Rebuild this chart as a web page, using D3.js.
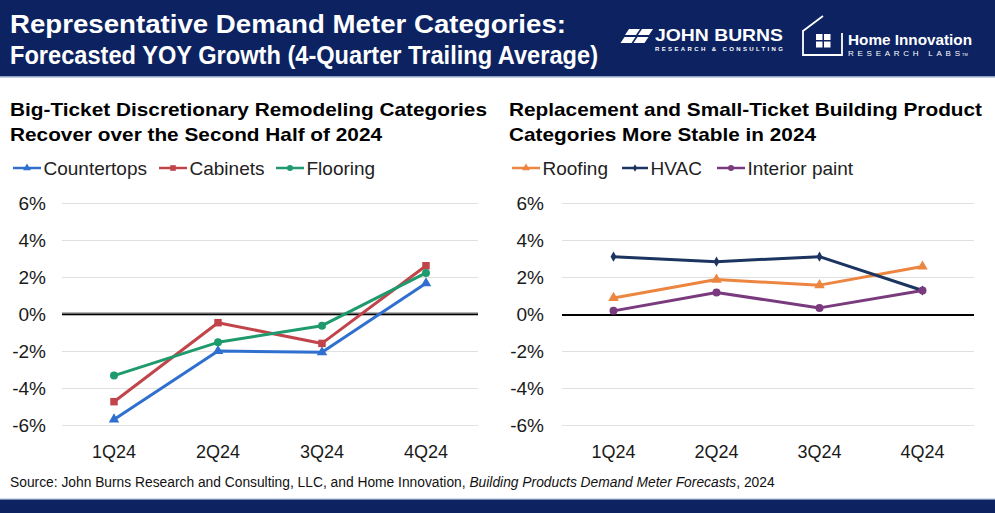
<!DOCTYPE html>
<html>
<head>
<meta charset="utf-8">
<script src="https://cdn.jsdelivr.net/npm/d3@7"></script>
<style>
  html, body { margin: 0; padding: 0; background: #ffffff; }
  svg { display: block; }
  text { font-family: "Liberation Sans", Arial, sans-serif; }
</style>
</head>
<body>
<svg id="chart" width="995" height="513"></svg>
<script>
// ---------------- DATA ----------------
const quarters = ["1Q24", "2Q24", "3Q24", "4Q24"];
const yTicks = [-6, -4, -2, 0, 2, 4, 6];

const countertops = [-5.7, -2.0, -2.07, 1.66];
const cabinets    = [-4.74, -0.47, -1.59, 2.61];
const flooring    = [-3.33, -1.53, -0.63, 2.22];

const roofing       = [0.87, 1.86, 1.56, 2.57];
const hvac          = [3.1, 2.83, 3.1, 1.27];
const interiorPaint = [0.17, 1.16, 0.33, 1.27];

const titleLines = ["Representative Demand Meter Categories:", "Forecasted YOY Growth (4-Quarter Trailing Average)"];
const leftTitle  = ["Big-Ticket Discretionary Remodeling Categories", "Recover over the Second Half of 2024"];
const rightTitle = ["Replacement and Small-Ticket Building Product", "Categories More Stable in 2024"];

const leftSeries = [
  { name: "Countertops", values: countertops, color: "#2F70CF", marker: "triangle" },
  { name: "Cabinets",    values: cabinets,    color: "#C2444B", marker: "square" },
  { name: "Flooring",    values: flooring,    color: "#1E9A6D", marker: "circle" }
];
const rightSeries = [
  { name: "Roofing",        values: roofing,       color: "#EC853F", marker: "triangle" },
  { name: "HVAC",           values: hvac,          color: "#1B3460", marker: "diamond" },
  { name: "Interior paint", values: interiorPaint, color: "#7A3A7E", marker: "circle" }
];

// ---------------- DRAW ----------------
const svg = d3.select("#chart");
const NAVY = "#0C2261";

// header band
svg.append("rect").attr("x", 0).attr("y", 0).attr("width", 995).attr("height", 77).attr("fill", NAVY);
svg.append("rect").attr("x", 0).attr("y", 76).attr("width", 995).attr("height", 1.5).attr("fill", "#8fa3c8");
// footer band
svg.append("rect").attr("x", 0).attr("y", 499).attr("width", 995).attr("height", 14).attr("fill", NAVY);
svg.append("rect").attr("x", 0).attr("y", 498.5).attr("width", 995).attr("height", 1.2).attr("fill", "#a9bad8");

// main title
const narrow = '"Liberation Sans Narrow", "Arial Narrow", "Liberation Sans", Arial, sans-serif';
svg.append("text").attr("x", 10).attr("y", 33).attr("fill", "#fff")
  .style("font-family", narrow).style("font-weight", "bold").style("font-size", "26px")
  .attr("textLength", 556).attr("lengthAdjust", "spacingAndGlyphs").text(titleLines[0]);
svg.append("text").attr("x", 10).attr("y", 64).attr("fill", "#fff")
  .style("font-family", narrow).style("font-weight", "bold").style("font-size", "26px")
  .attr("textLength", 588).attr("lengthAdjust", "spacingAndGlyphs").text(titleLines[1]);

// ---- John Burns logo ----
const jb = svg.append("g").attr("fill", "#fff");
jb.append("path").attr("d", "M629,29 L640,29 L636,35 L625,35 Z");
jb.append("path").attr("d", "M624.5,37 L635.5,37 L631.5,43 L620.5,43 Z");
jb.append("path").attr("d", "M642,29 L653,29 L649,35 L638,35 Z");
jb.append("path").attr("d", "M637.5,37 L648.5,37 L644.5,43 L633.5,43 Z");
jb.append("text").attr("x", 655).attr("y", 41).style("font-family", narrow)
  .style("font-weight", "bold").style("font-size", "17px")
  .attr("textLength", 128).attr("lengthAdjust", "spacingAndGlyphs").text("JOHN BURNS");
jb.append("text").attr("x", 655).attr("y", 51).style("font-weight", "bold").style("font-size", "6px")
  .attr("textLength", 128).attr("lengthAdjust", "spacing").text("RESEARCH & CONSULTING");

// ---- Home Innovation logo ----
const hi = svg.append("g");
hi.append("path").attr("d", "M803,31 L823,16 M803,30 L803,55 L842,55 L842,33")
  .attr("fill", "none").attr("stroke", "#fff").attr("stroke-width", 1.8);
[[816, 34], [824, 34], [816, 41.5], [824, 41.5]].forEach(p => {
  hi.append("rect").attr("x", p[0]).attr("y", p[1]).attr("width", 6.5).attr("height", 6).attr("fill", "#fff");
});
hi.append("text").attr("x", 848).attr("y", 45).attr("fill", "#fff").style("font-family", narrow)
  .style("font-weight", "bold").style("font-size", "15px")
  .attr("textLength", 124).attr("lengthAdjust", "spacingAndGlyphs").text("Home Innovation");
hi.append("text").attr("x", 848).attr("y", 56).attr("fill", "#fff").style("font-size", "8px")
  .attr("textLength", 112).attr("lengthAdjust", "spacing").text("RESEARCH LABS");
hi.append("text").attr("x", 962).attr("y", 56).attr("fill", "#fff").style("font-size", "4px").text("TM");

// ---------------- PANELS ----------------
function markerPath(type) {
  if (type === "triangle") return d3.symbol().type(d3.symbolTriangle).size(48)();
  if (type === "square") return d3.symbol().type(d3.symbolSquare).size(56)();
  if (type === "diamond") return d3.symbol().type(d3.symbolDiamond).size(30)();
  return d3.symbol().type(d3.symbolCircle).size(50)();
}

function panel(opts) {
  const g = svg.append("g");
  const x = d3.scaleBand().domain(quarters).range(opts.xRange).padding(0);
  const y = d3.scaleLinear().domain([-6, 6]).range([425, 203]);
  const cx = q => x(q) + x.bandwidth() / 2;

  // subtitle
  opts.title.forEach((t, i) => {
    g.append("text").attr("x", opts.titleX).attr("y", 116 + i * 24.5)
      .attr("fill", "#000").style("font-weight", "bold").style("font-size", "19px")
      .attr("textLength", opts.titleLens[i]).attr("lengthAdjust", "spacingAndGlyphs").text(t);
  });

  // legend
  opts.series.forEach((s, i) => {
    const lx = opts.legend[i];
    g.append("line").attr("x1", lx[0]).attr("x2", lx[1]).attr("y1", 168).attr("y2", 168)
      .attr("stroke", s.color).attr("stroke-width", 2.5);
    g.append("path").attr("d", markerPath(s.marker))
      .attr("transform", `translate(${(lx[0] + lx[1]) / 2},168) scale(0.75)`).attr("fill", s.color);
    g.append("text").attr("x", lx[1] + 2.5).attr("y", 175).attr("fill", "#222")
      .style("font-size", "19px").text(s.name);
  });

  // gridlines
  const grid = g.append("g").attr("transform", `translate(${opts.xRange[0]},0)`)
    .call(d3.axisLeft(y).tickValues(yTicks).tickSize(-(opts.xRange[1] - opts.xRange[0])).tickFormat(""));
  grid.select(".domain").remove();
  grid.selectAll("line").attr("stroke", "#e0e0e0").attr("stroke-width", 1.2);

  // y labels
  const ya = g.append("g").attr("transform", `translate(${opts.xRange[0]},0)`)
    .call(d3.axisLeft(y).tickValues(yTicks).tickSize(0).tickPadding(opts.yPad).tickFormat(d => d + "%"));
  ya.select(".domain").remove();
  ya.selectAll("text").style("font-size", "19px").style("font-family", '"Liberation Sans", Arial, sans-serif')
    .attr("fill", "#1a1a1a");

  // zero line
  if (opts.doubleZero) {
    g.append("line").attr("x1", opts.xRange[0]).attr("x2", opts.xRange[1]).attr("y1", y(0)).attr("y2", y(0))
      .attr("stroke", "#6b6b6b").attr("stroke-width", 3);
    g.append("line").attr("x1", opts.xRange[0]).attr("x2", opts.xRange[1]).attr("y1", y(0) + 0.5).attr("y2", y(0) + 0.5)
      .attr("stroke", "#000").attr("stroke-width", 1.2);
  } else {
    g.append("line").attr("x1", opts.xRange[0]).attr("x2", opts.xRange[1]).attr("y1", y(0) + 1).attr("y2", y(0) + 1)
      .attr("stroke", "#000").attr("stroke-width", 2.2);
  }

  // x labels
  const xa = g.append("g").attr("transform", "translate(0,425)")
    .call(d3.axisBottom(x).tickSize(0).tickPadding(20));
  xa.select(".domain").remove();
  xa.selectAll("text").style("font-size", "18px").style("font-family", '"Liberation Sans", Arial, sans-serif')
    .attr("fill", "#1a1a1a");

  // series
  const line = d3.line().x((d, i) => cx(quarters[i])).y(d => y(d));
  opts.series.forEach(s => {
    g.append("path").datum(s.values).attr("d", line).attr("fill", "none")
      .attr("stroke", s.color).attr("stroke-width", 3).attr("stroke-linejoin", "round");
    g.selectAll(null).data(s.values).enter().append("path")
      .attr("d", markerPath(s.marker))
      .attr("transform", (d, i) => `translate(${cx(quarters[i])},${y(d)})`)
      .attr("fill", s.color);
  });
}

panel({
  xRange: [62, 478], yPad: 16, title: leftTitle, titleX: 10, titleLens: [477, 372],
  series: leftSeries, legend: [[13, 41], [159, 187], [276, 304]], doubleZero: true
});
panel({
  xRange: [562, 974], yPad: 18, title: rightTitle, titleX: 509, titleLens: [473, 307],
  series: rightSeries, legend: [[512, 540], [622, 648], [717, 745]], doubleZero: false
});

// source
const src = svg.append("text").attr("x", 10).attr("y", 486.5).attr("fill", "#111").style("font-size", "13.8px");
src.append("tspan").text("Source: John Burns Research and Consulting, LLC, and Home Innovation, ");
src.append("tspan").style("font-style", "italic").text("Building Products Demand Meter Forecasts");
src.append("tspan").text(", 2024");
</script>
</body>
</html>
